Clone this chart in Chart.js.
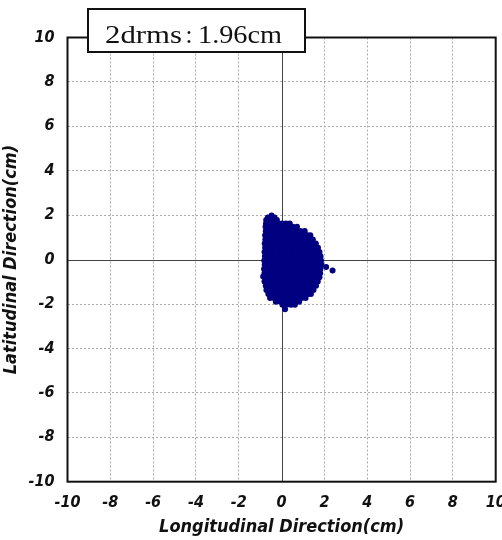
<!DOCTYPE html>
<html>
<head>
<meta charset="utf-8">
<script src="https://cdn.jsdelivr.net/npm/chart.js@4/dist/chart.umd.min.js"></script>
<style>
  html, body { margin: 0; padding: 0; background: #fff; }
  #wrap { width: 502px; height: 540px; }
</style>
</head>
<body>
<div id="wrap"><canvas id="scatter" width="502" height="540"></canvas></div>
<script>
// axis tick values (cm), same on both axes
const axisTicks = [-10, -8, -6, -4, -2, 0, 2, 4, 6, 8, 10];

// position fixes, grouped in bands of latitude (cm)
const bandLat = [1.99, 1.90, 1.78, 1.62, 1.48, 1.29, 1.10, 0.91, 0.72, 0.53, 0.34, 0.15, -0.04,
  -0.23, -0.42, -0.61, -0.80, -0.99, -1.18, -1.37, -1.55, -1.73, -1.90, -2.03];

// longitudinal offsets (cm) of the fixes in each band
const bandLon = [
  [-0.47],
  [-0.64, -0.50, -0.33],
  [-0.72, -0.55, -0.38, -0.22],
  [-0.73, -0.55, -0.36, -0.16, 0.02, 0.20, 0.38],
  [-0.75, -0.56, -0.35, -0.14, 0.08, 0.30, 0.52, 0.72],
  [-0.74, -0.62, -0.42, -0.20, 0.02, 0.24, 0.46, 0.68, 0.88, 1.08],
  [-0.77, -0.55, -0.33, -0.11, 0.11, 0.33, 0.55, 0.77, 0.99, 1.20, 1.34],
  [-0.76, -0.62, -0.40, -0.18, 0.04, 0.26, 0.48, 0.70, 0.92, 1.14, 1.32, 1.46],
  [-0.79, -0.55, -0.33, -0.11, 0.11, 0.33, 0.55, 0.77, 0.99, 1.21, 1.43, 1.60],
  [-0.77, -0.62, -0.40, -0.18, 0.04, 0.26, 0.48, 0.70, 0.92, 1.14, 1.36, 1.56, 1.70],
  [-0.80, -0.56, -0.34, -0.12, 0.10, 0.32, 0.54, 0.76, 0.98, 1.20, 1.42, 1.62, 1.77],
  [-0.78, -0.63, -0.41, -0.19, 0.03, 0.25, 0.47, 0.69, 0.91, 1.13, 1.35, 1.57, 1.74, 1.82],
  [-0.81, -0.57, -0.35, -0.13, 0.09, 0.31, 0.53, 0.75, 0.97, 1.19, 1.41, 1.63, 1.84],
  [-0.79, -0.64, -0.42, -0.20, 0.02, 0.24, 0.46, 0.68, 0.90, 1.12, 1.34, 1.56, 1.76, 1.86],
  [-0.82, -0.58, -0.36, -0.14, 0.08, 0.30, 0.52, 0.74, 0.96, 1.18, 1.40, 1.62, 1.81],
  [-0.80, -0.65, -0.43, -0.21, 0.01, 0.23, 0.45, 0.67, 0.89, 1.11, 1.33, 1.55, 1.74, 1.80],
  [-0.78, -0.58, -0.36, -0.14, 0.08, 0.30, 0.52, 0.74, 0.96, 1.18, 1.40, 1.60, 1.77],
  [-0.80, -0.64, -0.42, -0.20, 0.02, 0.24, 0.46, 0.68, 0.90, 1.12, 1.34, 1.54, 1.69],
  [-0.74, -0.56, -0.34, -0.12, 0.10, 0.32, 0.54, 0.76, 0.98, 1.20, 1.42, 1.61],
  [-0.71, -0.60, -0.40, -0.18, 0.04, 0.26, 0.48, 0.70, 0.92, 1.14, 1.34, 1.49],
  [-0.62, -0.48, -0.28, -0.06, 0.16, 0.38, 0.60, 0.82, 1.04, 1.24, 1.37],
  [-0.54, -0.36, -0.16, 0.06, 0.28, 0.50, 0.72, 0.94, 1.12],
  [-0.27, -0.06, 0.16, 0.38, 0.60, 0.82],
  [0.04, 0.24, 0.44, 0.62]
];

// isolated fixes away from the main cloud
const strayLon = [0.16, 2.08, 2.38, -0.86];
const strayLat = [-2.24, -0.33, -0.49, -0.76];

const summaryLabel = "2drms：1.96cm";

const fixes = [];
bandLat.forEach((lat, i) => {
  bandLon[i].forEach(lon => fixes.push({ x: lon, y: lat }));
});
strayLon.forEach((lon, i) => fixes.push({ x: lon, y: strayLat[i] }));

const tickFont = { family: '"Liberation Sans Narrow", "DejaVu Sans Condensed", sans-serif', size: 16, weight: 'bold', style: 'italic' };
const titleFont = { family: '"Liberation Sans Narrow", "DejaVu Sans Condensed", sans-serif', size: 18, weight: 'bold', style: 'italic' };

function gridColor(ctx) {
  // the zero lines are drawn solid by the frame plugin
  return ctx.tick && ctx.tick.value === 0 ? 'rgba(0,0,0,0)' : '#ababab';
}

function useAxisTicks(scale) {
  scale.ticks = axisTicks.map(v => ({ value: v }));
}

// solid zero lines, outer frame and the 2drms label box
const framePlugin = {
  id: 'frame',
  beforeDatasetsDraw(chart) {
    const { ctx, chartArea: a, scales } = chart;
    const x0 = Math.round(scales.x.getPixelForValue(0)) + 0.5;
    const y0 = Math.round(scales.y.getPixelForValue(0)) + 0.5;
    ctx.save();
    ctx.strokeStyle = '#444';
    ctx.lineWidth = 1;
    ctx.beginPath();
    ctx.moveTo(x0, a.top);
    ctx.lineTo(x0, a.bottom);
    ctx.moveTo(a.left, y0);
    ctx.lineTo(a.right, y0);
    ctx.stroke();
    ctx.restore();
  },
  afterDraw(chart) {
    const { ctx, chartArea: a } = chart;
    ctx.save();
    ctx.strokeStyle = '#111';
    ctx.lineWidth = 2;
    ctx.strokeRect(a.left, a.top, a.right - a.left, a.bottom - a.top);

    // label box sitting on the top edge
    ctx.fillStyle = '#fff';
    ctx.fillRect(88, 9, 217, 43);
    ctx.strokeRect(88, 9, 217, 43);

    const [left, right] = summaryLabel.split('：');
    ctx.fillStyle = '#111';
    ctx.font = '25px "Liberation Serif", serif';
    ctx.textBaseline = 'alphabetic';
    const drawFit = (text, x, width) => {
      const w = ctx.measureText(text).width;
      ctx.save();
      ctx.translate(x, 43);
      ctx.scale(width / w, 1);
      ctx.fillText(text, 0, 0);
      ctx.restore();
    };
    drawFit(left, 105, 77);
    ctx.textAlign = 'center';
    ctx.fillText(':', 189, 43);
    ctx.textAlign = 'left';
    drawFit(right, 198, 84);
    ctx.restore();
  }
};

new Chart(document.getElementById('scatter'), {
  type: 'scatter',
  data: {
    datasets: [{
      data: fixes,
      backgroundColor: '#000080',
      borderWidth: 0,
      pointRadius: 3,
      pointHoverRadius: 3
    }]
  },
  options: {
    responsive: false,
    animation: false,
    events: [],
    layout: { padding: { top: 37.5, right: 6.3, left: 0, bottom: 0 } },
    plugins: { legend: { display: false }, tooltip: { enabled: false } },
    scales: {
      x: {
        type: 'linear',
        min: -10,
        max: 10,
        afterBuildTicks: useAxisTicks,
        afterFit(scale) {
          scale.height = 58.3;
          scale.paddingLeft = 0;
          scale.paddingRight = 0;
        },
        grid: { color: gridColor, lineWidth: 1, drawTicks: false },
        border: { display: false, dash: [2, 2] },
        ticks: { padding: 12, color: '#111', font: tickFont, maxRotation: 0, autoSkip: false },
        title: {
          display: true,
          text: 'Longitudinal Direction(cm)',
          color: '#111',
          font: titleFont,
          padding: { top: 0, bottom: 2 }
        }
      },
      y: {
        type: 'linear',
        min: -10,
        max: 10,
        afterBuildTicks: useAxisTicks,
        afterFit(scale) {
          scale.width = 67.5;
          scale.paddingTop = 0;
          scale.paddingBottom = 0;
        },
        grid: { color: gridColor, lineWidth: 1, drawTicks: false },
        border: { display: false, dash: [2, 2] },
        ticks: { padding: 13, color: '#111', font: tickFont, autoSkip: false },
        title: {
          display: true,
          text: 'Latitudinal Direction(cm)',
          color: '#111',
          font: titleFont,
          padding: { top: 1, bottom: 0 }
        }
      }
    }
  },
  plugins: [framePlugin]
});
</script>
</body>
</html>
